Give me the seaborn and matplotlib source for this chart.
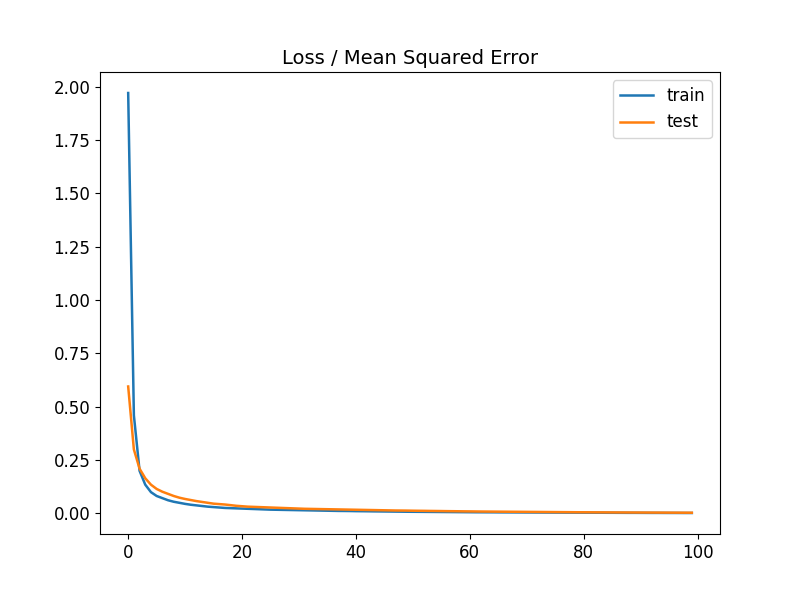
import matplotlib
matplotlib.use("Agg")
import matplotlib.pyplot as plt
import seaborn as sns

# per-epoch loss values
train_loss = [1.97, 0.46, 0.20, 0.135, 0.10, 0.082, 0.072, 0.062, 0.055, 0.050,
              0.045, 0.041, 0.038, 0.035, 0.032, 0.030, 0.028, 0.026, 0.025, 0.024,
              0.023, 0.022, 0.021, 0.020, 0.019, 0.018, 0.0175, 0.017, 0.0165, 0.016,
              0.0155, 0.015, 0.0145, 0.014, 0.0135, 0.013, 0.0125, 0.012, 0.0118, 0.0115,
              0.011, 0.0107, 0.0104, 0.010, 0.0097, 0.0094, 0.0091, 0.0088, 0.0085, 0.0082,
              0.008, 0.0078, 0.0076, 0.0074, 0.0072, 0.007, 0.0068, 0.0066, 0.0064, 0.0062,
              0.006, 0.0058, 0.0057, 0.0056, 0.0055, 0.0053, 0.0052, 0.0051, 0.005, 0.0049,
              0.0048, 0.0047, 0.0046, 0.0045, 0.0044, 0.0043, 0.0042, 0.0041, 0.004, 0.0039,
              0.0038, 0.0037, 0.0036, 0.0035, 0.0034, 0.0033, 0.0032, 0.0031, 0.003, 0.003,
              0.0029, 0.0028, 0.0027, 0.0027, 0.0026, 0.0025, 0.0025, 0.0024, 0.0023, 0.0023]
test_loss = [0.595, 0.30, 0.21, 0.165, 0.135, 0.115, 0.102, 0.092, 0.082, 0.074,
             0.068, 0.063, 0.058, 0.054, 0.050, 0.046, 0.044, 0.042, 0.039, 0.036,
             0.034, 0.032, 0.031, 0.030, 0.029, 0.028, 0.027, 0.026, 0.025, 0.024,
             0.023, 0.022, 0.0215, 0.021, 0.0205, 0.020, 0.0195, 0.019, 0.0185, 0.018,
             0.0175, 0.017, 0.0165, 0.016, 0.0155, 0.015, 0.0145, 0.014, 0.0138, 0.0135,
             0.013, 0.0127, 0.0124, 0.012, 0.0117, 0.0114, 0.011, 0.0107, 0.0104, 0.010,
             0.0098, 0.0095, 0.0092, 0.009, 0.0088, 0.0086, 0.0084, 0.0082, 0.008, 0.0078,
             0.0076, 0.0074, 0.0072, 0.007, 0.0068, 0.0066, 0.0064, 0.0062, 0.006, 0.0058,
             0.0057, 0.0056, 0.0054, 0.0053, 0.0052, 0.005, 0.0049, 0.0048, 0.0047, 0.0046,
             0.0045, 0.0044, 0.0043, 0.0042, 0.0041, 0.004, 0.0039, 0.0038, 0.0037, 0.0036]
epochs = list(range(len(train_loss)))

plt.rcParams['font.size'] = 12
fig, ax = plt.subplots(figsize=(8, 6), dpi=100)
sns.lineplot(x=epochs, y=train_loss, ax=ax, label="train", color="#1f77b4", linewidth=1.8)
sns.lineplot(x=epochs, y=test_loss, ax=ax, label="test", color="#ff7f0e", linewidth=1.8)
ax.set_title("Loss / Mean Squared Error", fontsize=14)
ax.tick_params(labelsize=12)
ax.legend(loc="upper right", fontsize=12)
fig.subplots_adjust(left=0.125, right=0.9, top=0.88, bottom=0.11)
fig.savefig("out.png")
